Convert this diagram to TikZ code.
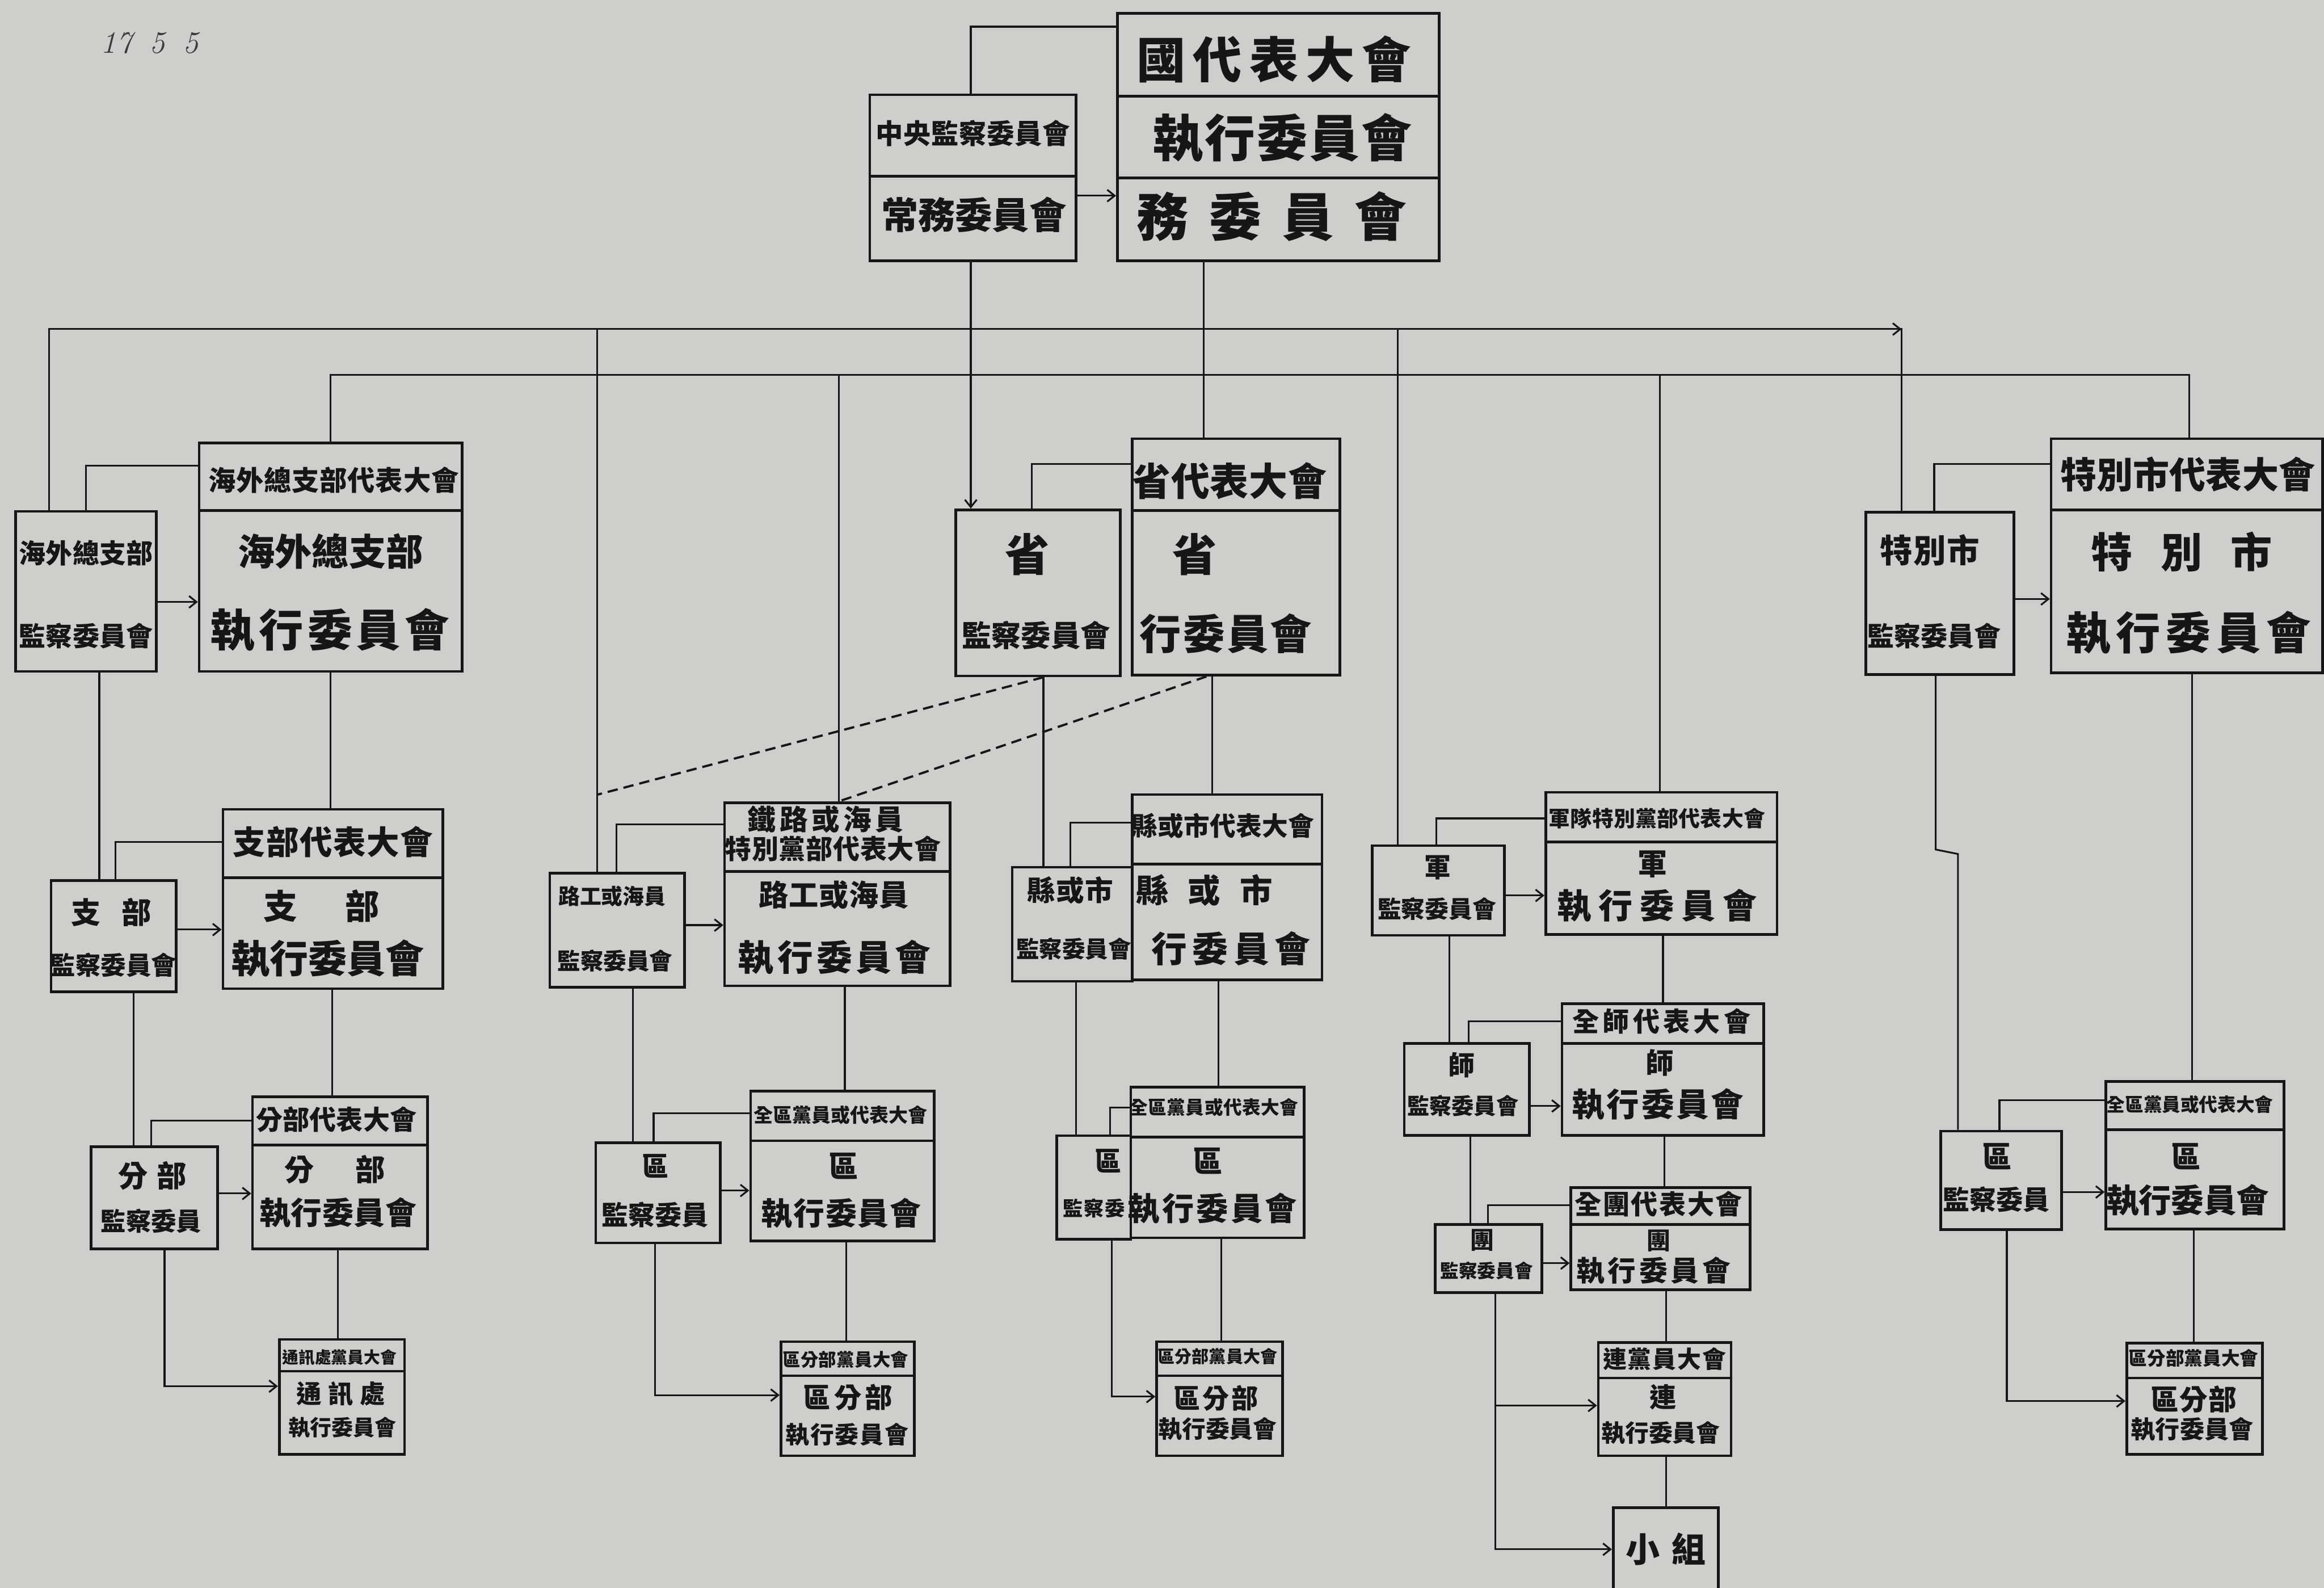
\documentclass[tikz,border=0pt]{standalone}
\usepackage{fontspec}
\setmainfont{Noto Sans CJK TC}
\newfontfamily\latinf{Latin Modern Roman}
\usetikzlibrary{arrows.meta}
\definecolor{paper}{RGB}{206,206,204}
\definecolor{ink}{RGB}{22,22,22}
\definecolor{pencil}{RGB}{60,60,60}
\makeatletter
\def\sprd#1{\sprd@#1\@nil}
\def\sprd@#1#2\@nil{#1\ifx\relax#2\relax\else\hfill\sprd@#2\@nil\fi}
\makeatother
\tikzset{
  boxst/.style={draw=ink, line width=1.8pt, inner sep=0pt, rectangle},
  txtst/.style={inner sep=0pt, text=ink, anchor=center},
  conn/.style={draw=ink, line width=1.2pt},
  arr/.style={conn, -{Straight Barb[length=5pt,width=8pt]}},
  dsh/.style={conn, line width=1.5pt, dash pattern=on 7pt off 4pt}
}
\newcommand\bx[5]{\node[boxst, anchor=north west, minimum width={#4pt-#2pt}, minimum height={#5pt-#3pt}] (#1) at (#2,#3) {};}
\newcommand\tx[6]{\node[txtst, font=\bfseries\fontsize{#4pt}{#4pt}\selectfont] (#1) at (#2,#3) {\makebox[#5pt]{\sprd{#6}}};}
\begin{document}
\begin{tikzpicture}[x=1pt,y=-1pt]
\fill[paper] (0,0) rectangle (1568,1071);
\useasboundingbox (0,0) rectangle (1568,1071);
\foreach \v in {33,58,67,78,90,102,111,223,224,228,403,416,427,441,442,566,570,571,655,696,704,722,726,749,750,812,814,818,822,824,943,969,978,991,992,1004,1009,1120,1122,1123,1124,1283,1305,1306,1321,1349,1354,1477,1479,1480}
  \coordinate (X\v) at (\v,0);
\foreach \v in {18,132,222,253,313,314,404,406,536,552,555,556,568,573,576,604,624,627,689,742,746,747,751,756,803,804,805,813,852,935,941,942,945,948,1045}
  \coordinate (Y\v) at (0,\v);

% handwritten note
\node[inner sep=0pt, text=pencil, font=\latinf\itshape\fontsize{21pt}{21pt}\selectfont] (note) at (101,29) {17\hspace{12pt}5\hspace{12pt}5};

% ---------- boxes ----------
\bx{natA}{753}{8}{970}{64}
\bx{natB}{753}{64}{970}{119}
\bx{natC}{753}{119}{970}{175}
\bx{cenA}{586}{63}{725}{118}
\bx{cenB}{586}{118}{725}{175}
\bx{ovsup}{9.5}{344}{104.5}{452}
\bx{ovA}{133.5}{298}{311}{343.5}
\bx{ovB}{133.5}{343.5}{311}{452}
\bx{zbsup}{33.5}{593}{118}{668}
\bx{zbA}{149.5}{545}{298}{591}
\bx{zbB}{149.5}{591}{298}{666}
\bx{fbsup}{60.5}{772.5}{146}{841.5}
\bx{fbA}{169.5}{739}{287.5}{771.5}
\bx{fbB}{169.5}{771.5}{287.5}{841.5}
\bx{txA}{187.5}{902.5}{272}{924}
\bx{txB}{187.5}{924}{272}{980}
\bx{lgsup}{370}{588}{461}{665}
\bx{lgA}{488}{540.5}{640}{587}
\bx{lgB}{488}{587}{640}{664}
\bx{qusup}{401}{770}{485}{837.5}
\bx{quA}{505.5}{735}{629.5}{768.5}
\bx{quB}{505.5}{768.5}{629.5}{836}
\bx{qfA}{526}{904}{616}{927}
\bx{qfB}{526}{927}{616}{981}
\bx{shsup}{644}{343}{755}{455}
\bx{shA}{763}{295}{903}{343.5}
\bx{shB}{763}{343.5}{903}{454.5}
\bx{xsup}{682}{584}{763}{661}
\bx{xA}{763}{535}{891}{582}
\bx{xB}{763}{582}{891}{660}
\node[boxst, draw=none, anchor=north west, minimum width=49pt, minimum height=68pt] (q3sup) at (713,766) {};
\draw[boxst] (q3sup.north east) -- (q3sup.north west) -- (q3sup.south west) -- (q3sup.south east);
\bx{q3A}{762}{732.5}{879}{766}
\bx{q3B}{762}{766}{879}{834}
\bx{q3fA}{779.5}{904}{864.5}{927}
\bx{q3fB}{779.5}{927}{864.5}{981}
\bx{jsup}{925}{569.5}{1014}{630}
\bx{jA}{1042}{533.5}{1198}{567}
\bx{jB}{1042}{567}{1198}{629.5}
\bx{ssup}{946.5}{703}{1031}{765}
\bx{sA}{1053}{676}{1189}{703}
\bx{sB}{1053}{703}{1189}{765}
\bx{tsup}{967.5}{825}{1039.5}{871}
\bx{tA}{1059}{800}{1180}{825}
\bx{tB}{1059}{825}{1180}{869}
\bx{lA}{1077.5}{904.5}{1167}{928.5}
\bx{lB}{1077.5}{928.5}{1167}{981}
\bx{xz}{1087.5}{1016}{1158.5}{1080}
\bx{tbsup}{1258}{344.5}{1358}{454}
\bx{tbA}{1383}{295}{1566}{343}
\bx{tbB}{1383}{343}{1566}{453}
\bx{q5sup}{1308.5}{762}{1390}{828.5}
\bx{q5A}{1420}{728.5}{1540}{761}
\bx{q5B}{1420}{761}{1540}{828}
\bx{q5fA}{1434}{905}{1525.5}{928.5}
\bx{q5fB}{1434}{928.5}{1525.5}{980}

% ---------- texts ----------
\tx{t1}{859.5}{40}{33}{185}{國代表大會}
\tx{t2}{865}{93}{34}{175}{執行委員會}
\tx{t3}{858}{146}{35}{182}{務委員會}
\tx{t4}{656.5}{90}{18.5}{131}{中央監察委員會}
\tx{t5}{657}{145}{25}{125}{常務委員會}
\tx{t6}{58}{373}{18}{87}{海外總支部}
\tx{t7}{58}{429}{18}{87}{監察委員會}
\tx{t8}{225}{324}{18.5}{169}{海外總支部代表大會}
\tx{t9}{223}{372}{25}{125}{海外總支部}
\tx{t10}{222.5}{425}{30}{161}{執行委員會}
\tx{t11}{75}{615.5}{20}{54}{支部}
\tx{t12}{76.5}{651}{17}{77}{監察委員會}
\tx{t13}{224.5}{568}{22}{135}{支部代表大會}
\tx{t14}{217}{611}{23}{78}{支部}
\tx{t15}{221}{646.5}{26}{130}{執行委員會}
\tx{t16}{103}{793}{20}{46}{分部}
\tx{t17}{102}{823.5}{17}{68}{監察委員}
\tx{t18}{227}{755}{18}{108}{分部代表大會}
\tx{t19}{226}{789}{20}{68}{分部}
\tx{t20}{228}{818}{21}{106}{執行委員會}
\tx{t21}{229}{915.5}{11}{77}{通訊處黨員大會}
\tx{t22}{230}{940}{17}{60}{通訊處}
\tx{t23}{231}{963}{14.5}{73}{執行委員會}
\tx{t24}{413}{604.5}{14.5}{70}{路工或海員}
\tx{t25}{415}{648}{15.5}{76}{監察委員會}
\tx{t26}{557}{552.5}{19}{105}{鐵路或海員}
\tx{t27}{562}{572.5}{18}{146}{特別黨部代表大會}
\tx{t28}{562.5}{603.5}{20}{101}{路工或海員}
\tx{t29}{563}{646}{24}{130}{執行委員會}
\tx{t30}{442}{786.5}{18}{18}{區}
\tx{t31}{442}{819.5}{18}{70}{監察委員}
\tx{t32}{567}{752}{13}{116}{全區黨員或代表大會}
\tx{t33}{569}{786.5}{20}{20}{區}
\tx{t34}{567.5}{818.5}{21}{108}{執行委員會}
\tx{t35}{570.5}{917}{12}{85}{區分部黨員大會}
\tx{t36}{572}{942.5}{18.5}{60}{區分部}
\tx{t37}{571.5}{967.5}{16}{83}{執行委員會}
\tx{t38}{693}{374}{30}{30}{省}
\tx{t39}{699}{428.5}{20}{97}{監察委員會}
\tx{t40}{829.5}{324.5}{26}{131}{省代表大會}
\tx{t41}{806}{374}{30}{30}{省}
\tx{t42}{827}{427.5}{28}{116}{行委員會}
\tx{t43}{722}{600.5}{19}{58}{縣或市}
\tx{t44}{724.5}{640}{15.5}{77}{監察委員會}
\tx{t45}{825}{557}{17.5}{123}{縣或市代表大會}
\tx{t46}{812.5}{600.5}{22}{92}{縣或市}
\tx{t47}{830.5}{640}{24}{107}{行委員會}
\tx{t48}{747.5}{783}{18}{18}{區}
\tx{t49}{738}{815}{13.5}{42}{監察委}
\tx{t50}{819}{747}{12.5}{114}{全區黨員或代表大會}
\tx{t51}{815}{783}{20}{20}{區}
\tx{t52}{818}{815}{21.5}{114}{執行委員會}
\tx{t53}{821.5}{915}{11.5}{80}{區分部黨員大會}
\tx{t54}{820.5}{943}{18}{57}{區分部}
\tx{t55}{821.5}{964}{16}{80}{執行委員會}
\tx{t56}{970}{585}{18}{18}{軍}
\tx{t57}{969.5}{613}{16}{80}{監察委員會}
\tx{t58}{1118}{552}{14.5}{146}{軍隊特別黨部代表大會}
\tx{t59}{1115}{583}{20}{20}{軍}
\tx{t60}{1118}{611}{23}{135}{執行委員會}
\tx{t61}{986}{718.5}{18}{18}{師}
\tx{t62}{987}{746}{15}{75}{監察委員會}
\tx{t63}{1121}{689}{18}{120}{全師代表大會}
\tx{t64}{1120}{717}{19}{19}{師}
\tx{t65}{1118.5}{745}{22}{116}{執行委員會}
\tx{t66}{1000}{836.5}{16}{16}{團}
\tx{t67}{1003}{857}{12.5}{62}{監察委員會}
\tx{t68}{1119}{812}{18}{113}{全團代表大會}
\tx{t69}{1119}{837}{16}{16}{團}
\tx{t70}{1115.5}{857}{19}{104}{執行委員會}
\tx{t71}{1123}{916.5}{16}{83}{連黨員大會}
\tx{t72}{1122}{942.5}{18}{18}{連}
\tx{t73}{1120.5}{966.5}{16}{79}{執行委員會}
\tx{t74}{1124}{1045}{23}{54}{小組}
\tx{t75}{1302}{371}{22}{67}{特別市}
\tx{t76}{1305}{429}{18}{89}{監察委員會}
\tx{t77}{1476}{320}{24.5}{172}{特別市代表大會}
\tx{t78}{1472}{372}{28}{122}{特別市}
\tx{t79}{1476.5}{427}{30}{165}{執行委員會}
\tx{t80}{1347.5}{780}{20}{20}{區}
\tx{t81}{1347}{809}{18}{68}{監察委員}
\tx{t82}{1477.5}{745}{12.5}{110}{全區黨員或代表大會}
\tx{t83}{1475}{780}{20}{20}{區}
\tx{t84}{1476}{809.5}{22}{104}{執行委員會}
\tx{t85}{1480}{916}{12.5}{86}{區分部黨員大會}
\tx{t86}{1480}{944}{19}{58}{區分部}
\tx{t87}{1479}{964}{16.5}{82}{執行委員會}

% ---------- connectors: top ----------
\draw[conn] (cenA.north -| X655) |- (natA.west |- Y18);
\draw[arr] (cenB.east |- Y132) -- (natC.west |- Y132);
\draw[arr] (cenB.south -| X655) -- (shsup.north -| X655);
\draw[conn] (ovsup.north -| X33) -- (X33 |- Y222) -- (X1283 |- Y222) -- (tbsup.north -| X1283);
\draw[arr] (X943 |- Y222) -- (X1283 |- Y222);
\draw[conn] (X403 |- Y222) -- (lgsup.north -| X403);
\draw[conn] (X943 |- Y222) -- (jsup.north -| X943);
\draw[conn] (natC.south -| X812) -- (shA.north -| X812);
\draw[conn] (ovA.north -| X223) -- (X223 |- Y253) -- (X1477 |- Y253) -- (tbA.north -| X1477);
\draw[conn] (X566 |- Y253) -- (lgA.north -| X566);
\draw[conn] (X1120 |- Y253) -- (jA.north -| X1120);
\draw[dsh] (shsup.south -| X704) -- (X403 |- Y536);
\draw[dsh] (shB.south -| X814) -- (lgA.north -| X566);

% ---------- left column ----------
\draw[conn] (ovsup.north -| X58) |- (ovA.west |- Y314);
\draw[arr] (ovsup.east |- Y406) -- (ovB.west |- Y406);
\draw[conn] (ovB.south -| X223) -- (zbA.north -| X223);
\draw[conn] (ovsup.south -| X67) -- (zbsup.north -| X67);
\draw[conn] (zbsup.north -| X78) |- (zbA.west |- Y568);
\draw[arr] (zbsup.east |- Y627) -- (zbB.west |- Y627);
\draw[conn] (zbB.south -| X224) -- (fbA.north -| X224);
\draw[conn] (zbsup.south -| X90) -- (fbsup.north -| X90);
\draw[conn] (fbsup.north -| X102) |- (fbA.west |- Y756);
\draw[arr] (fbsup.east |- Y805) -- (fbB.west |- Y805);
\draw[conn] (fbB.south -| X228) -- (txA.north -| X228);
\draw[arr] (fbsup.south -| X111) |- (txB.west |- Y935);

% ---------- second column ----------
\draw[conn] (lgsup.north -| X416) |- (lgA.west |- Y556);
\draw[arr] (lgsup.east |- Y624) -- (lgB.west |- Y624);
\draw[conn] (lgB.south -| X570) -- (quA.north -| X570);
\draw[conn] (lgsup.south -| X427) -- (qusup.north -| X427);
\draw[conn] (qusup.north -| X441) |- (quA.west |- Y751);
\draw[arr] (qusup.east |- Y803) -- (quB.west |- Y803);
\draw[conn] (quB.south -| X571) -- (qfA.north -| X571);
\draw[arr] (qusup.south -| X442) |- (qfB.west |- Y941);

% ---------- third column ----------
\draw[conn] (shsup.north -| X696) |- (shA.west |- Y313);
\draw[conn] (shsup.south -| X704) -- (xsup.north -| X704);
\draw[conn] (shB.south -| X818) -- (xA.north -| X818);
\draw[conn] (xsup.north -| X722) |- (xA.west |- Y555);
\draw[conn] (xB.south -| X822) -- (q3A.north -| X822);
\draw[conn] (xsup.south -| X726) -- (q3sup.north -| X726);
\draw[conn] (q3sup.north -| X749) |- (q3A.west |- Y747);
\draw[conn] (q3B.south -| X824) -- (q3fA.north -| X824);
\draw[arr] (q3sup.south -| X750) |- (q3fB.west |- Y942);

% ---------- fourth column ----------
\draw[conn] (jsup.north -| X969) |- (jA.west |- Y552);
\draw[arr] (jsup.east |- Y604) -- (jB.west |- Y604);
\draw[conn] (jB.south -| X1122) -- (sA.north -| X1122);
\draw[conn] (jsup.south -| X978) -- (ssup.north -| X978);
\draw[conn] (ssup.north -| X991) |- (sA.west |- Y689);
\draw[arr] (ssup.east |- Y746) -- (sB.west |- Y746);
\draw[conn] (sB.south -| X1123) -- (tA.north -| X1123);
\draw[conn] (ssup.south -| X992) -- (tsup.north -| X992);
\draw[conn] (tsup.north -| X1004) |- (tA.west |- Y813);
\draw[arr] (tsup.east |- Y852) -- (tB.west |- Y852);
\draw[conn] (tB.south -| X1124) -- (lA.north -| X1124);
\draw[arr] (tsup.south -| X1009) |- (xz.west |- Y1045);
\draw[arr] (X1009 |- Y948) -- (lB.west |- Y948);
\draw[conn] (lB.south -| X1124) -- (xz.north -| X1124);

% ---------- fifth column ----------
\draw[conn] (tbsup.north -| X1305) |- (tbA.west |- Y313);
\draw[arr] (tbsup.east |- Y404) -- (tbB.west |- Y404);
\draw[conn] (tbB.south -| X1479) -- (q5A.north -| X1479);
\draw[conn] (tbsup.south -| X1306) -- (X1306 |- Y573) -- (X1321 |- Y576) -- (q5sup.north -| X1321);
\draw[conn] (q5sup.north -| X1349) |- (q5A.west |- Y742);
\draw[arr] (q5sup.east |- Y804) -- (q5B.west |- Y804);
\draw[conn] (q5B.south -| X1480) -- (q5fA.north -| X1480);
\draw[arr] (q5sup.south -| X1354) |- (q5fB.west |- Y945);
\end{tikzpicture}
\end{document}
